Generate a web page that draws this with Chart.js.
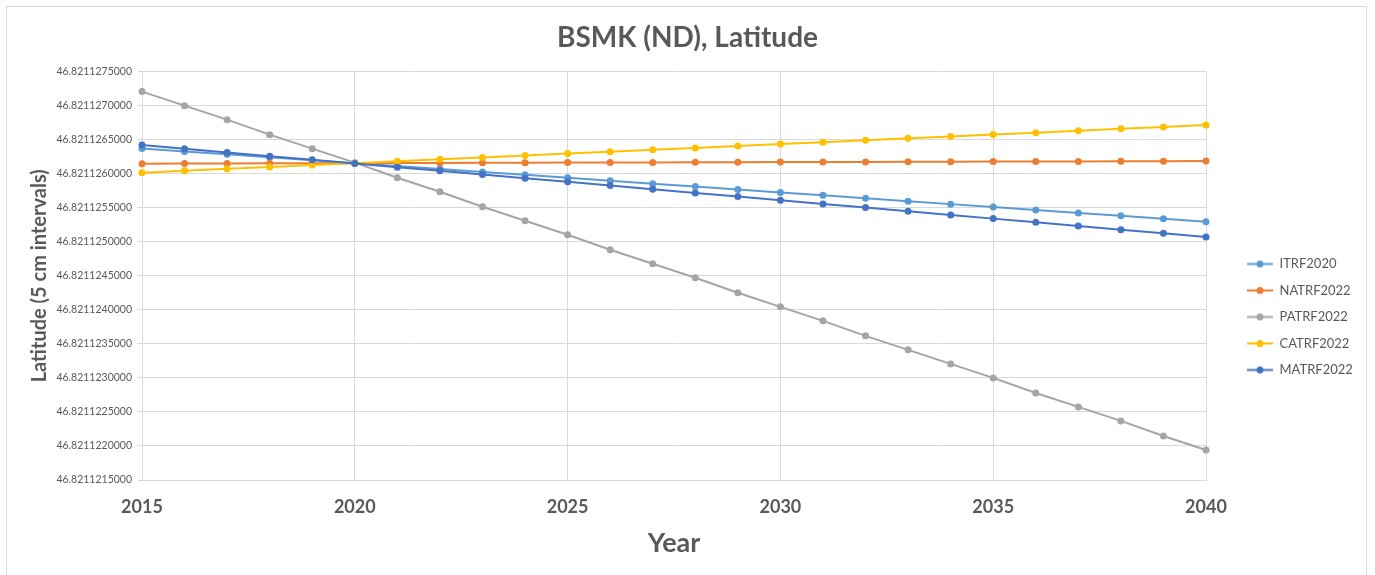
<!DOCTYPE html>
<html>
<head>
<meta charset="utf-8">
<title>BSMK (ND), Latitude</title>
<script src="https://cdn.jsdelivr.net/npm/chart.js@4.4.1/dist/chart.umd.min.js"></script>
<style>
  body { margin: 0; background: #fff; }
  #wrap { position: relative; width: 1375px; height: 575px; }
  #frame { position: absolute; left: 6px; top: 6px; width: 1361px; height: 575px; border: 1px solid #d9d9d9; box-sizing: border-box; pointer-events: none; }
  canvas { position: absolute; left: 0; top: 0; }
</style>
</head>
<body>
<div id="wrap">
  <canvas id="latChart" width="1375" height="575"></canvas>
  <div id="frame"></div>
</div>
<script>
// years on the x axis
const years = [2015, 2016, 2017, 2018, 2019, 2020, 2021, 2022, 2023, 2024, 2025, 2026, 2027,
               2028, 2029, 2030, 2031, 2032, 2033, 2034, 2035, 2036, 2037, 2038, 2039, 2040];

const seriesNames = ['ITRF2020', 'NATRF2022', 'PATRF2022', 'CATRF2022', 'MATRF2022'];
const seriesColors = ['#5b9bd5', '#ed7d31', '#a5a5a5', '#ffc000', '#4472c4'];

// latitude values (degrees)
const itrf2020 = [46.8211263700, 46.8211263270, 46.8211262840, 46.8211262410, 46.8211261980, 46.8211261550,
                  46.8211261120, 46.8211260690, 46.8211260260, 46.8211259830, 46.8211259400, 46.8211258970,
                  46.8211258540, 46.8211258110, 46.8211257680, 46.8211257250, 46.8211256820, 46.8211256390,
                  46.8211255960, 46.8211255530, 46.8211255100, 46.8211254670, 46.8211254240, 46.8211253810,
                  46.8211253380, 46.8211252950];
const natrf2022 = [46.8211261480, 46.8211261495, 46.8211261510, 46.8211261525, 46.8211261540, 46.8211261555,
                   46.8211261570, 46.8211261585, 46.8211261600, 46.8211261615, 46.8211261630, 46.8211261645,
                   46.8211261660, 46.8211261675, 46.8211261690, 46.8211261705, 46.8211261720, 46.8211261735,
                   46.8211261750, 46.8211261765, 46.8211261780, 46.8211261795, 46.8211261810, 46.8211261825,
                   46.8211261840, 46.8211261855];
const patrf2022 = [46.8211272060, 46.8211270000, 46.8211267940, 46.8211265740, 46.8211263680, 46.8211261620,
                   46.8211259410, 46.8211257350, 46.8211255150, 46.8211253090, 46.8211251030, 46.8211248820,
                   46.8211246770, 46.8211244710, 46.8211242500, 46.8211240440, 46.8211238380, 46.8211236180,
                   46.8211234120, 46.8211232060, 46.8211230000, 46.8211227790, 46.8211225740, 46.8211223680,
                   46.8211221470, 46.8211219410];
const catrf2022 = [46.8211260150, 46.8211260430, 46.8211260710, 46.8211260990, 46.8211261270, 46.8211261550,
                   46.8211261830, 46.8211262110, 46.8211262390, 46.8211262670, 46.8211262950, 46.8211263230,
                   46.8211263510, 46.8211263790, 46.8211264070, 46.8211264350, 46.8211264630, 46.8211264910,
                   46.8211265190, 46.8211265470, 46.8211265750, 46.8211266030, 46.8211266310, 46.8211266590,
                   46.8211266870, 46.8211267150];
const matrf2022 = [46.8211264200, 46.8211263660, 46.8211263120, 46.8211262580, 46.8211262040, 46.8211261500,
                   46.8211260960, 46.8211260420, 46.8211259880, 46.8211259340, 46.8211258800, 46.8211258260,
                   46.8211257720, 46.8211257180, 46.8211256640, 46.8211256100, 46.8211255560, 46.8211255020,
                   46.8211254480, 46.8211253940, 46.8211253400, 46.8211252860, 46.8211252320, 46.8211251780,
                   46.8211251240, 46.8211250700];

// y axis tick values (5 cm steps)
const yTicks = [46.8211215, 46.8211220, 46.8211225, 46.8211230, 46.8211235, 46.8211240, 46.8211245,
                46.8211250, 46.8211255, 46.8211260, 46.8211265, 46.8211270, 46.8211275];

const allSeries = [itrf2020, natrf2022, patrf2022, catrf2022, matrf2022];

const FONT = 'Lato, "Open Sans", sans-serif';
const TEXT = '#595959';
const GRID = '#d9d9d9';

// small line-with-dot marker for the legend
function makeMarker(color) {
    const c = document.createElement('canvas');
    c.width = 26;
    c.height = 9;
    const g = c.getContext('2d');
    g.fillStyle = color;
    g.fillRect(0, 3.5, 26, 2);
    g.beginPath();
    g.arc(13, 4.5, 3.5, 0, Math.PI * 2);
    g.fill();
    return c;
}
const markers = seriesColors.map(makeMarker);

// put the legend and the title where the original has them
const boxPlacer = {
    id: 'boxPlacer',
    afterLayout(chart) {
        const lg = chart.legend;
        if (lg) {
            const pad = lg.options.labels.padding;
            const w = lg.width, h = lg.height;
            lg.left = 1247 - pad;
            lg.right = lg.left + w;
            lg.top = 264 - 6.5 - pad;
            lg.bottom = lg.top + h;
        }
        const t = chart.titleBlock;
        if (t) {
            t.left = 0;
            t.right = chart.width;
            t.width = chart.width;
        }
    }
};

const datasets = seriesNames.map((name, i) => ({
    label: name,
    data: allSeries[i],
    borderColor: seriesColors[i],
    backgroundColor: seriesColors[i],
    borderWidth: 2,
    pointRadius: 3.5,
    pointBorderWidth: 0,
    pointHoverRadius: 4,
    tension: 0,
    clip: false,
    order: seriesNames.length - i
}));

const ctx = document.getElementById('latChart').getContext('2d');
new Chart(ctx, {
    type: 'line',
    data: { labels: years, datasets: datasets },
    options: {
        responsive: false,
        animation: false,
        layout: { padding: { left: 6, right: 169, top: 6, bottom: 6 } },
        plugins: {
            title: {
                display: true,
                text: 'BSMK (ND), Latitude',
                color: TEXT,
                font: { family: FONT, size: 28, weight: 'bold' },
                padding: { top: 15, bottom: 17 }
            },
            legend: {
                position: 'chartArea',
                align: 'start',
                labels: {
                    color: TEXT,
                    font: { family: FONT, size: 13 },
                    usePointStyle: true,
                    pointStyleWidth: 26,
                    padding: 13.5,
                    sort: (a, b) => a.datasetIndex - b.datasetIndex,
                    generateLabels(chart) {
                        const items = Chart.defaults.plugins.legend.labels.generateLabels(chart);
                        items.forEach(it => { it.pointStyle = markers[it.datasetIndex]; });
                        return items;
                    }
                }
            },
            tooltip: { enabled: false }
        },
        scales: {
            x: {
                type: 'linear',
                min: 2015,
                max: 2040,
                afterFit(scale) { scale.height = 89; },
                ticks: {
                    stepSize: 5,
                    color: TEXT,
                    padding: 16,
                    font: { family: FONT, size: 18, weight: 'bold' },
                    callback: v => String(v)
                },
                grid: { color: GRID, drawTicks: false },
                border: { color: GRID },
                title: {
                    display: true,
                    text: 'Year',
                    color: TEXT,
                    font: { family: FONT, size: 27, weight: 'bold' },
                    padding: { top: 0, bottom: 10 }
                }
            },
            y: {
                min: 46.8211215,
                max: 46.8211275,
                afterFit(scale) { scale.width = 136; },
                afterBuildTicks(scale) { scale.ticks = yTicks.map(v => ({ value: v })); },
                ticks: {
                    color: TEXT,
                    padding: 6,
                    font: { family: FONT, size: 10.5 },
                    callback: v => Number(v).toFixed(10)
                },
                grid: { color: GRID, tickLength: 4 },
                border: { color: GRID },
                title: {
                    display: true,
                    text: 'Latitude (5 cm intervals)',
                    color: TEXT,
                    font: { family: FONT, size: 20, weight: 'bold' },
                    padding: { top: 22, bottom: 0 }
                }
            }
        }
    },
    plugins: [boxPlacer]
});
</script>
</body>
</html>
